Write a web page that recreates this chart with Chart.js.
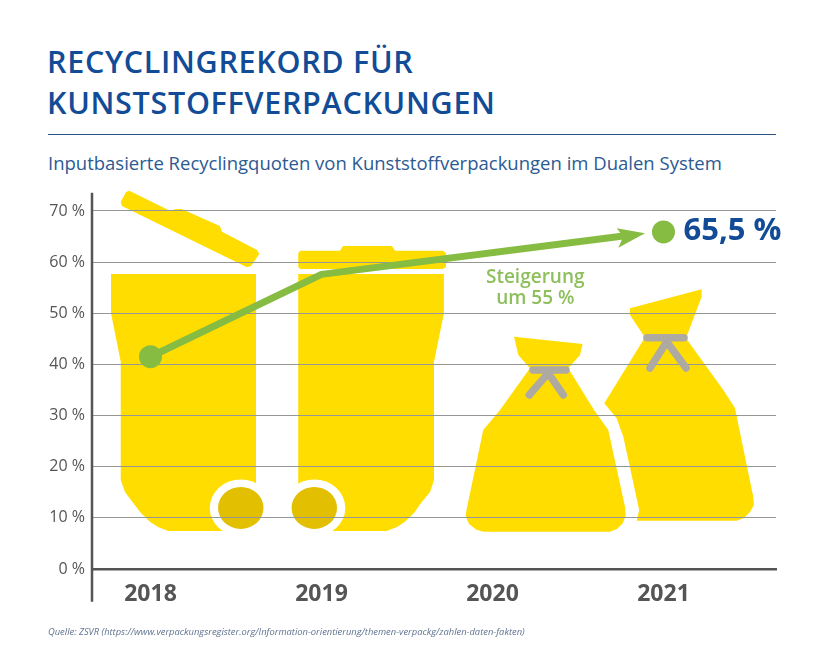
<!DOCTYPE html>
<html lang="de">
<head>
<meta charset="utf-8">
<title>Recyclingrekord</title>
<script src="https://cdn.jsdelivr.net/npm/chart.js@4"></script>
<style>
  html, body { margin: 0; background: #fff; }
  #page { position: relative; width: 821px; height: 652px; overflow: hidden; font-family: "Open Sans", sans-serif; }
  #chart { position: absolute; left: 0; top: 0; }
  h1 { position: absolute; left: 47px; top: 41px; margin: 0; font-size: 30.5px; line-height: 41px; font-weight: 600; color: #124b96; letter-spacing: 0.7px; white-space: nowrap; }
  h2 { position: absolute; left: 48px; top: 150px; margin: 0; font-size: 18.5px; line-height: 26px; font-weight: 400; color: #2c5a92; white-space: nowrap; }
  #rule { position: absolute; left: 48px; top: 134px; width: 728px; height: 1px; background: #2a5585; }
  #source { position: absolute; left: 48px; top: 625px; font-size: 9.35px; font-style: italic; color: #5f7390; white-space: nowrap; }
</style>
</head>
<body>
<div id="page">
  <h1>RECYCLINGREKORD FÜR<br>KUNSTSTOFFVERPACKUNGEN</h1>
  <div id="rule"></div>
  <h2>Inputbasierte Recyclingquoten von Kunststoffverpackungen im Dualen System</h2>
  <canvas id="chart" width="821" height="652"></canvas>
  <div id="source">Quelle: ZSVR (https://www.verpackungsregister.org/Information-orientierung/themen-verpackg/zahlen-daten-fakten)</div>
</div>
<script>
const years = [2018, 2019, 2020, 2021];
const yTicks = [0, 10, 20, 30, 40, 50, 60, 70];

// recycling quota
const quotaLine = [[2018, 41.5], [2019, 57.6], [2020.8, 65.24]];
const quotaDots = [[2018, 41.5], [2021, 65.9]];
const arrowHead = [[2020.892, 65.63], [2020.726, 66.61], [2020.765, 65.0], [2020.736, 62.82]];

const valueLabel = '65,5 %';
const increaseLabel = ['Steigerung', 'um 55 %'];

// pictograms, outlines in axis units (year, percent)
const bin2018 = [[2017.769, 57.67], [2018.617, 57.67], [2018.617, 7.43], [2018.104, 7.43], [2018.044, 8.21], [2017.997, 9.25], [2017.944, 10.95], [2017.899, 12.9], [2017.851, 15.05], [2017.826, 17.4], [2017.826, 40.53], [2017.769, 50.05]];
const lid2018 = [[2017.876, 73.96], [2018.114, 70.05], [2018.149, 70.38], [2018.182, 70.38], [2018.406, 67.06], [2018.418, 65.94], [2018.623, 62.37], [2018.636, 61.58], [2018.588, 59.24], [2018.564, 58.98], [2017.833, 70.97], [2017.826, 71.75], [2017.857, 73.7]];
const bin2019 = [[2018.864, 57.67], [2019.716, 57.67], [2019.716, 50.0], [2019.658, 40.53], [2019.658, 17.4], [2019.635, 15.05], [2019.582, 12.9], [2019.541, 10.95], [2019.488, 9.25], [2019.442, 8.21], [2019.381, 7.43], [2018.864, 7.43]];
const lid2019 = [[2018.877, 62.23], [2019.108, 62.23], [2019.126, 63.15], [2019.412, 63.15], [2019.43, 62.23], [2019.711, 62.23], [2019.728, 61.78], [2019.728, 59.04], [2019.711, 58.65], [2018.877, 58.65], [2018.864, 59.04], [2018.864, 61.78]];
const bag2020 = [[2020.126, 45.42], [2020.527, 43.99], [2020.512, 41.84], [2020.443, 39.24], [2020.594, 31.09], [2020.677, 27.18], [2020.775, 12.18], [2020.779, 10.56], [2020.763, 8.99], [2020.728, 7.82], [2020.687, 7.29], [2019.946, 7.29], [2019.904, 7.72], [2019.863, 8.8], [2019.843, 10.36], [2019.848, 11.53], [2019.946, 27.18], [2020.044, 31.09], [2020.219, 39.24], [2020.151, 41.84]];
const bag2021 = [[2020.804, 50.97], [2021.223, 54.68], [2021.223, 53.24], [2021.139, 45.75], [2021.139, 44.77], [2021.35, 34.99], [2021.418, 31.48], [2021.525, 14.13], [2021.529, 12.51], [2021.506, 11.14], [2021.471, 9.97], [2021.428, 9.44], [2020.843, 9.44], [2020.858, 11.53], [2020.765, 25.87], [2020.726, 29.46], [2020.654, 32.39], [2020.882, 44.77], [2020.882, 45.75], [2020.804, 49.66]];
const ropes = [
  [[2020.237, 38.91], [2020.43, 38.91]],
  [[2020.326, 38.3], [2020.215, 34.02]],
  [[2020.326, 38.3], [2020.414, 34.02]],
  [[2020.904, 45.22], [2021.12, 45.22]],
  [[2021.019, 44.44], [2020.921, 39.3]],
  [[2021.019, 44.44], [2021.132, 39.3]]
];
const wheelYears = [2018.528, 2018.958];
const wheelLevel = 11.95;

const yAxisLine = [[2017.658, 73.57], [2017.658, 0], [2017.658, -6.39]];
const xMin = 2017.658;
const xMax = 2021.658;

const green = '#86bc42';
const yellow = '#ffdd00';

const shape = (points, color) => ({
  data: points, fill: 'shape', backgroundColor: color, borderWidth: 0
});
const rope = points => ({
  data: points, borderColor: '#aeaaa1', borderWidth: 7.5, borderCapStyle: 'round', fill: false
});

// wheels sit under the grid lines, same as the bins
const wheelsPlugin = {
  id: 'wheels',
  beforeDraw(chart) {
    const { ctx, scales: { x, y } } = chart;
    const cy = y.getPixelForValue(wheelLevel);
    wheelYears.forEach(year => {
      const cx = x.getPixelForValue(year);
      ctx.save();
      ctx.fillStyle = '#fff';
      ctx.beginPath();
      ctx.ellipse(cx, cy, 31, 28.5, 0, 0, Math.PI * 2);
      ctx.fill();
      ctx.fillStyle = '#e2bf00';
      ctx.beginPath();
      ctx.ellipse(cx, cy, 22.7, 21, 0, 0, Math.PI * 2);
      ctx.fill();
      ctx.restore();
    });
  }
};

const labelsPlugin = {
  id: 'labels',
  afterDraw(chart) {
    const { ctx, scales: { x, y } } = chart;
    ctx.save();
    ctx.textBaseline = 'middle';
    ctx.fillStyle = '#124b96';
    ctx.textAlign = 'left';
    ctx.font = '700 31px "Open Sans"';
    ctx.fillText(valueLabel, x.getPixelForValue(2021.117), y.getPixelForValue(66));
    ctx.fillStyle = '#8dbf5c';
    ctx.textAlign = 'center';
    ctx.font = '600 19px "Open Sans"';
    ctx.fillText(increaseLabel[0], x.getPixelForValue(2020.25), y.getPixelForValue(57));
    ctx.fillText(increaseLabel[1], x.getPixelForValue(2020.25), y.getPixelForValue(52.8));
    ctx.restore();
  }
};

new Chart(document.getElementById('chart'), {
  type: 'line',
  data: {
    datasets: [
      { data: quotaDots, showLine: false, pointRadius: 11.5, pointBackgroundColor: green, pointBorderWidth: 0 },
      { data: quotaLine, borderColor: green, borderWidth: 7, borderJoinStyle: 'round', fill: false },
      ...ropes.map(rope),
      { data: yAxisLine, borderColor: '#555', borderWidth: 2.5, clip: false, fill: false },
      shape(arrowHead, green),
      shape(bin2018, yellow),
      shape(lid2018, yellow),
      shape(bin2019, yellow),
      shape(lid2019, yellow),
      shape(bag2020, yellow),
      shape(bag2021, yellow)
    ]
  },
  options: {
    responsive: false,
    animation: false,
    events: [],
    elements: { point: { radius: 0 }, line: { tension: 0 } },
    layout: { padding: { left: 0, right: 45, top: 185.375, bottom: 0 } },
    plugins: {
      legend: { display: false },
      tooltip: { enabled: false },
      filler: { drawTime: 'beforeDraw' }
    },
    scales: {
      x: {
        type: 'linear',
        min: xMin,
        max: xMax,
        afterBuildTicks: scale => { scale.ticks = years.map(value => ({ value })); },
        afterFit: scale => { scale.height = 83; },
        grid: { display: false, drawTicks: false },
        border: { color: '#555', width: 2.5 },
        ticks: {
          padding: 12,
          maxRotation: 0,
          color: '#555',
          font: { family: '"Open Sans"', size: 23, weight: '700' },
          callback: value => String(value)
        }
      },
      y: {
        min: 0,
        max: 75,
        afterBuildTicks: scale => { scale.ticks = yTicks.map(value => ({ value })); },
        afterFit: scale => { scale.width = 92; },
        grid: { color: '#969696', lineWidth: 1, drawTicks: false },
        border: { display: false },
        ticks: {
          padding: 7,
          color: '#555',
          font: { family: '"Open Sans"', size: 16 },
          callback: value => value + ' %'
        }
      }
    }
  },
  plugins: [wheelsPlugin, labelsPlugin]
});
</script>
</body>
</html>
